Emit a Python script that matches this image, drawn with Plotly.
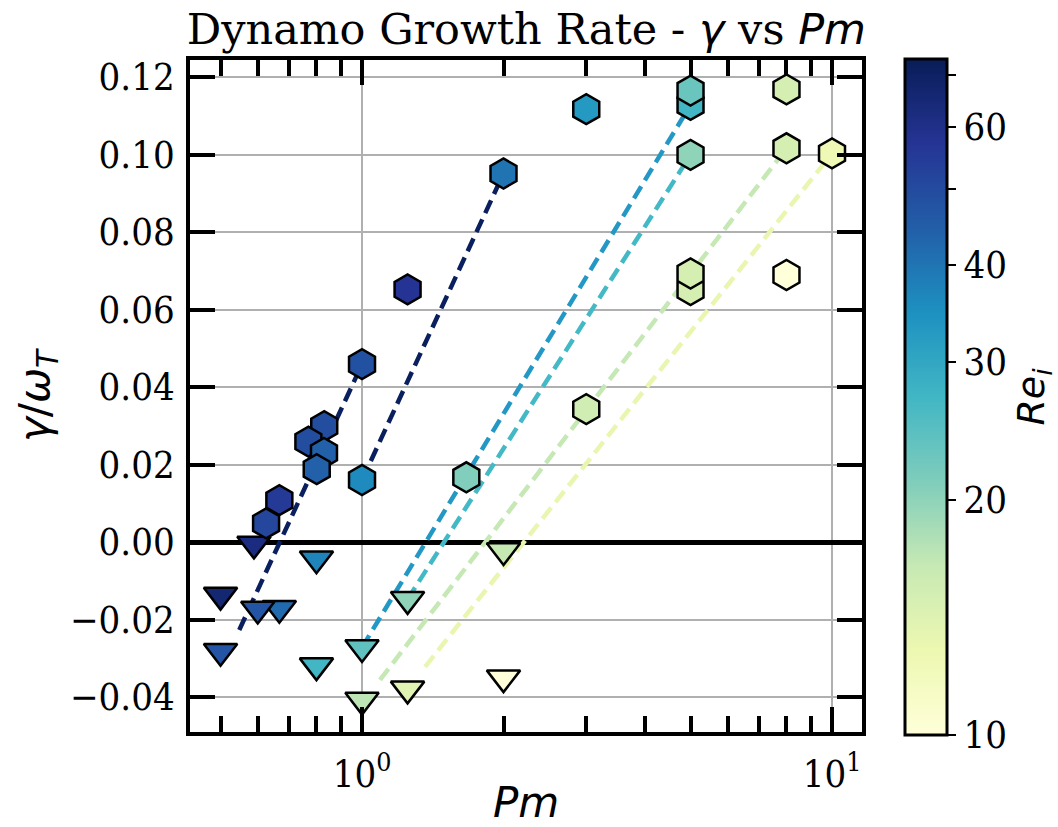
import numpy as np
import plotly.graph_objects as go

# ---- growing modes (hexagons): Pm, growth rate gamma/omega_T, inner Reynolds number
grow_pm = [2.0, 3.0, 5.0, 5.0, 5.0, 8.0, 8.0, 10.0, 5.0, 5.0, 8.0, 1.25, 1.0, 1.0,
           1.667, 3.0, 0.831, 0.769, 0.830, 0.801, 0.625, 0.667]
grow_gamma = [0.0951, 0.1117, 0.1128, 0.1165, 0.0999, 0.1168, 0.1016, 0.1003, 0.0650,
              0.0693, 0.0689, 0.0652, 0.0459, 0.0160, 0.0167, 0.0343, 0.0299, 0.0259,
              0.0230, 0.0188, 0.0048, 0.0108]
grow_re = [40, 33, 27, 23, 20, 15, 15, 12.5, 15, 15, 10, 57, 48, 36,
           21, 15.5, 49, 49, 44, 44, 51, 55]

# ---- decaying modes (down triangles)
decay_pm = [0.5, 0.589, 0.667, 0.6, 0.5, 0.8, 0.8, 1.0, 1.0, 1.25, 1.25, 2.0, 2.0]
decay_gamma = [-0.0137, -0.0005, -0.0171, -0.0173, -0.0282, -0.0043, -0.0319, -0.0272,
               -0.0408, -0.0148, -0.0379, -0.0022, -0.0350]
decay_re = [66, 62, 42, 47, 47, 37, 27, 24, 17, 20, 14, 16.5, 10]

# ---- log-linear growth-rate trends for each Re_i branch (start, end)
fit_pm = [[0.548, 1.0], [1.0, 2.0], [1.0, 5.0], [1.25, 5.0], [1.092, 8.0], [1.362, 10.0]]
fit_gamma = [[-0.0227, 0.0459], [0.0160, 0.0951], [-0.0272, 0.1128],
             [-0.0148, 0.0999], [-0.0356, 0.1016], [-0.0322, 0.1003]]
fit_colors = ["#0a1f5e", "#0a1f5e", "#2498c5", "#44b9c6", "#c5e8b4", "#e8f6b0"]

# ---- axes / colour bar ticks
x_major = [1, 10]
x_major_text = ["10<sup>0</sup>", "10<sup>1</sup>"]
x_minor = [0.5, 0.6, 0.7, 0.8, 0.9, 2, 3, 4, 5, 6, 7, 8, 9]
cbar_vals = [10, 20, 30, 40, 50, 60, 70]
cbar_text = ["10", "20", "30", "40", " ", "60", " "]
re_min, re_max = 10.0, 73.3

# matplotlib YlGnBu
ylgnbu = ["#ffffd9", "#edf8b1", "#c7e9b4", "#7fcdbb", "#41b6c4",
          "#1d91c0", "#225ea8", "#253494", "#081d58"]
colorscale = [[i / (len(ylgnbu) - 1), c] for i, c in enumerate(ylgnbu)]

SERIF = "DejaVu Serif Condensed, DejaVu Serif, serif"
SERIF_TITLE = "DejaVu Serif, serif"
SANS = "DejaVu Sans, sans-serif"

fig = go.Figure()

for pms, gs, col in zip(fit_pm, fit_gamma, fit_colors):
    fig.add_trace(go.Scatter(
        x=pms, y=gs, mode="lines", showlegend=False, hoverinfo="skip",
        line=dict(color=col, width=4.5, dash="14px,7px")))

color_kw = dict(colorscale=colorscale, cmin=np.log10(re_min), cmax=np.log10(re_max))

fig.add_trace(go.Scatter(
    x=decay_pm, y=decay_gamma, mode="markers", showlegend=False,
    marker=dict(symbol="triangle-down", size=29, color=np.log10(decay_re),
                line=dict(color="black", width=2.5), **color_kw)))

fig.add_trace(go.Scatter(
    x=grow_pm, y=grow_gamma, mode="markers", showlegend=False,
    marker=dict(symbol="hexagon", size=30, color=np.log10(grow_re),
                line=dict(color="black", width=2.5), showscale=True,
                colorbar=dict(
                    x=1.064, xanchor="left", xpad=0, ypad=0,
                    y=0.4985, yanchor="middle", lenmode="pixels", len=676,
                    thickness=42, outlinewidth=3, outlinecolor="black",
                    tickmode="array", tickvals=np.log10(cbar_vals), ticktext=cbar_text,
                    ticks="outside", ticklen=8, tickwidth=2, tickcolor="black",
                    tickfont=dict(family=SERIF, size=38, color="black"),
                    title=dict(text="<i>Re</i><sub><i>i</i></sub>", side="right",
                               font=dict(family=SANS, size=38, color="black"))),
                **color_kw)))

axis_common = dict(
    showline=True, linewidth=3.5, linecolor="black", mirror="allticks",
    ticks="inside", ticklen=25, tickwidth=4, tickcolor="black",
    showgrid=True, gridcolor="#b0b0b0", gridwidth=1.8,
    tickfont=dict(family=SERIF, size=38, color="black"),
)

fig.update_xaxes(
    type="log", range=[-0.366, 1.0638],
    tickmode="array", tickvals=x_major, ticktext=x_major_text,
    minor=dict(tickmode="array", tickvals=x_minor, ticks="inside", ticklen=16,
               tickwidth=3.5, tickcolor="black", showgrid=False),
    title=dict(text="<i>Pm</i>", font=dict(family=SANS, size=42, color="black"), standoff=2),
    ticklabelstandoff=6,
    **axis_common)

fig.update_yaxes(
    range=[-0.04903, 0.12439], dtick=0.02, tick0=0, tickformat=".2f",
    zeroline=True, zerolinecolor="black", zerolinewidth=4.5,
    title=dict(text="<i>γ</i>/<i>ω</i><sub><i>T</i></sub>",
               font=dict(family=SANS, size=42, color="black"), standoff=8),
    ticklabelstandoff=4,
    **axis_common)

fig.update_layout(
    width=1058, height=827,
    margin=dict(l=190, r=196, t=60, b=95, autoexpand=False),
    plot_bgcolor="white", paper_bgcolor="white",
    title=dict(text="Dynamo Growth Rate - <span style='font-family:DejaVu Sans'><i>γ</i></span>"
                    " vs <span style='font-family:DejaVu Sans'><i>Pm</i></span>",
               x=0.4975, xanchor="center", y=0.965, yanchor="middle",
               font=dict(family=SERIF_TITLE, size=43, color="black")),
)

fig.write_html("out.html")
